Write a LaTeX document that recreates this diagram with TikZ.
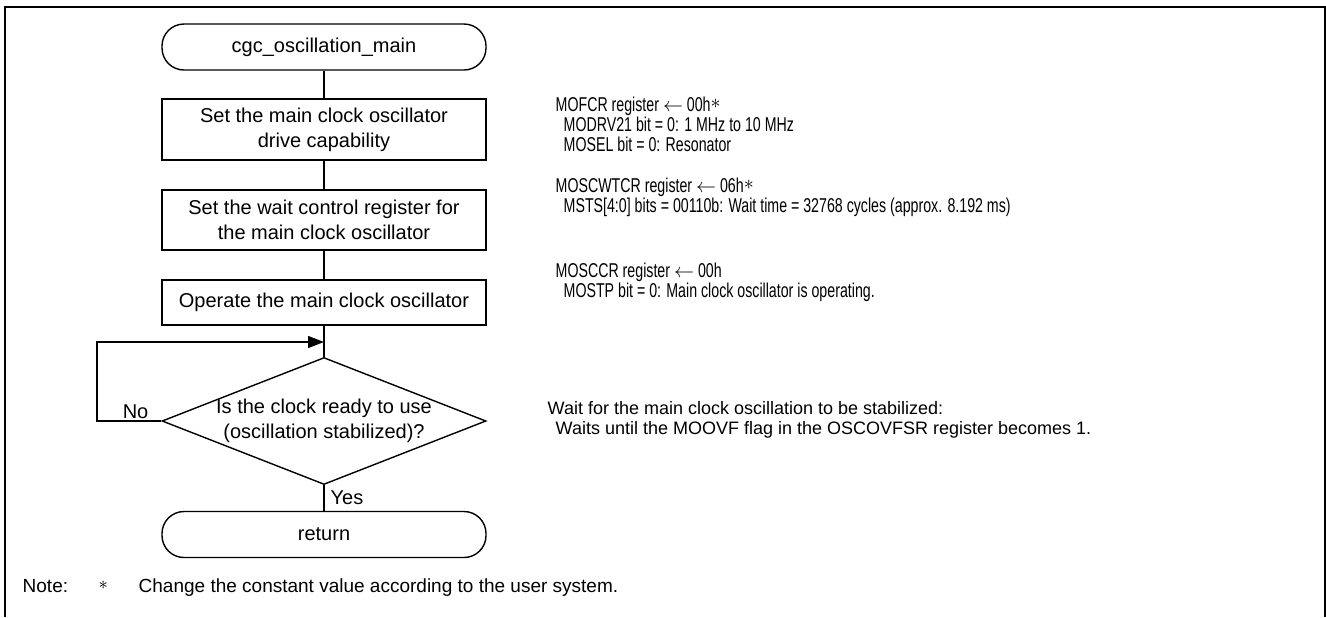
\documentclass[tikz,border=0pt]{standalone}
\usepackage{fontspec}
\setmainfont{Liberation Sans}
\newfontfamily\condfont[FakeStretch=0.71]{Liberation Sans}
\usetikzlibrary{shapes.geometric}
\usetikzlibrary{arrows.meta}
\newcommand{\boxfont}{\fontsize{10}{12.5}\selectfont}
\newcommand{\regfont}{\condfont\fontsize{10}{10}\selectfont}
\newcommand{\waitfont}{\fontsize{9}{10}\selectfont}
\newcommand{\cstar}{\raisebox{1.5pt}{$\ast$}}

\begin{document}
\begin{tikzpicture}[x=0.5pt,y=-0.5pt,font=\boxfont,line width=0.7pt,
  term/.style={draw,rounded corners=11pt,minimum width=162pt,minimum height=23pt,inner sep=0pt},
  proc/.style={draw,align=center,minimum width=162pt,inner sep=0pt},
  decision/.style={draw,diamond,align=center,aspect=2.55,inner xsep=-12pt,inner ysep=0pt,minimum width=162pt,minimum height=63.5pt},
  regnote/.style={align=left,anchor=north west,inner sep=0pt,font=\regfont}]
\useasboundingbox (0,0) rectangle (1326,617);
\draw [line width=1.2pt] (5,617) -- (5,7) -- (1325,7) -- (1325,617) ;
\node[term] (start) at (324,47) {cgc\_oscillation\_main};
\node[proc,minimum height=30.5pt] (drive) at (324,129.5) {Set the main clock oscillator\\drive capability};
\node[proc,minimum height=30pt] (waitreg) at (324,220) {Set the wait control register for\\the main clock oscillator};
\node[proc,minimum height=22.5pt] (operate) at (324,302.5) {Operate the main clock oscillator};
\node[decision] (ready) at (324,421) {Is the clock ready to use\\(oscillation stabilized)?};
\node[term] (ret) at (324,534.5) {return};
\coordinate (loop) at (97,342);
\draw (start) -- (drive) ;
\draw (drive) -- (waitreg) ;
\draw (waitreg) -- (operate) ;
\draw (operate) -- (ready) ;
\draw (ready) -- node[right,inner sep=3pt]{Yes} (ret) ;
\draw [-{Triangle[length=8pt,width=6pt]}] (ready.west) -- node[above,pos=0.4,inner sep=1pt]{No} (ready.west -| loop) -- (loop) -- (loop -| operate.south) ;
\node[regnote] (mofcr) at (555,96) {MOFCR register $\leftarrow$ 00h\cstar\\\hspace*{4pt}MODRV21 bit = 0: 1 MHz to 10 MHz\\\hspace*{4pt}MOSEL bit = 0: Resonator};
\node[regnote] (moscwtcr) at (555,177) {MOSCWTCR register $\leftarrow$ 06h\cstar\\\hspace*{4pt}MSTS[4:0] bits = 00110b: Wait time = 32768 cycles (approx. 8.192 ms)};
\node[regnote] (mosccr) at (555,262) {MOSCCR register $\leftarrow$ 00h\\\hspace*{4pt}MOSTP bit = 0: Main clock oscillator is operating.};
\node[align=left,anchor=north west,inner sep=0pt,font=\waitfont] (moovf) at (547,401) {Wait for the main clock oscillation to be stabilized:\\\hspace*{4pt}Waits until the MOOVF flag in the OSCOVFSR register becomes 1.};
\node[anchor=west,inner sep=0pt,font=\fontsize{9.5}{11}\selectfont] (note) at (22,588) {\makebox[38pt][l]{Note:}\makebox[20pt][l]{\cstar}Change the constant value according to the user system.};
\end{tikzpicture}
\end{document}
